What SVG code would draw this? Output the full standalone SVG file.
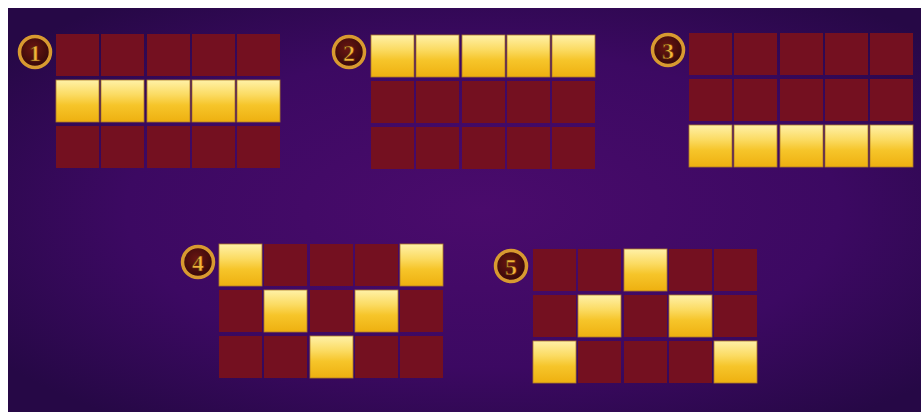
<svg xmlns="http://www.w3.org/2000/svg" width="921" height="412" viewBox="0 0 921 412">
<defs>
<radialGradient id="bg" cx="0.52" cy="0.5" r="0.65">
<stop offset="0" stop-color="#4a0b6c"/>
<stop offset="0.6" stop-color="#3c0962"/>
<stop offset="1" stop-color="#260846"/>
</radialGradient>
<linearGradient id="gold" x1="0" y1="0" x2="0" y2="1">
<stop offset="0" stop-color="#fff1a8"/>
<stop offset="0.35" stop-color="#fbdb62"/>
<stop offset="0.6" stop-color="#f6c52a"/>
<stop offset="1" stop-color="#eeb010"/>
</linearGradient>
<radialGradient id="badgeIn" cx="0.45" cy="0.4" r="0.6">
<stop offset="0" stop-color="#6a1612"/>
<stop offset="1" stop-color="#34080a"/>
</radialGradient>
<style>
.r{fill:#741020}
.g{fill:url(#gold);stroke:#b07a2a;stroke-width:0.8}
.ring{fill:url(#badgeIn);stroke:#d89a30;stroke-width:3.5}
.num{font-family:"Liberation Serif",serif;font-weight:bold;font-size:24px;fill:#f2b43a;text-anchor:middle;stroke:#5a2808;stroke-width:0.6}
</style>
</defs>
<rect x="0" y="0" width="921" height="412" fill="#ffffff"/>
<rect x="8" y="8" width="913" height="404" fill="url(#bg)"/>

<g id="line1" transform="translate(56,34)">
<circle class="ring" cx="-21" cy="18" r="15.5"/>
<text class="num" x="-21" y="26.5">1</text>
<rect class="r" x="0" y="0" width="43" height="42"/><rect class="r" x="45" y="0" width="43" height="42"/><rect class="r" x="91" y="0" width="43" height="42"/><rect class="r" x="136" y="0" width="43" height="42"/><rect class="r" x="181" y="0" width="43" height="42"/>
<rect class="g" x="0" y="46" width="43" height="42"/><rect class="g" x="45" y="46" width="43" height="42"/><rect class="g" x="91" y="46" width="43" height="42"/><rect class="g" x="136" y="46" width="43" height="42"/><rect class="g" x="181" y="46" width="43" height="42"/>
<rect class="r" x="0" y="92" width="43" height="42"/><rect class="r" x="45" y="92" width="43" height="42"/><rect class="r" x="91" y="92" width="43" height="42"/><rect class="r" x="136" y="92" width="43" height="42"/><rect class="r" x="181" y="92" width="43" height="42"/>
</g>

<g id="line2" transform="translate(371,35)">
<circle class="ring" cx="-22" cy="17" r="15.5"/>
<text class="num" x="-22" y="25.5">2</text>
<rect class="g" x="0" y="0" width="43" height="42"/><rect class="g" x="45" y="0" width="43" height="42"/><rect class="g" x="91" y="0" width="43" height="42"/><rect class="g" x="136" y="0" width="43" height="42"/><rect class="g" x="181" y="0" width="43" height="42"/>
<rect class="r" x="0" y="46" width="43" height="42"/><rect class="r" x="45" y="46" width="43" height="42"/><rect class="r" x="91" y="46" width="43" height="42"/><rect class="r" x="136" y="46" width="43" height="42"/><rect class="r" x="181" y="46" width="43" height="42"/>
<rect class="r" x="0" y="92" width="43" height="42"/><rect class="r" x="45" y="92" width="43" height="42"/><rect class="r" x="91" y="92" width="43" height="42"/><rect class="r" x="136" y="92" width="43" height="42"/><rect class="r" x="181" y="92" width="43" height="42"/>
</g>

<g id="line3" transform="translate(689,33)">
<circle class="ring" cx="-21" cy="17" r="15.5"/>
<text class="num" x="-21" y="25.5">3</text>
<rect class="r" x="0" y="0" width="43" height="42"/><rect class="r" x="45" y="0" width="43" height="42"/><rect class="r" x="91" y="0" width="43" height="42"/><rect class="r" x="136" y="0" width="43" height="42"/><rect class="r" x="181" y="0" width="43" height="42"/>
<rect class="r" x="0" y="46" width="43" height="42"/><rect class="r" x="45" y="46" width="43" height="42"/><rect class="r" x="91" y="46" width="43" height="42"/><rect class="r" x="136" y="46" width="43" height="42"/><rect class="r" x="181" y="46" width="43" height="42"/>
<rect class="g" x="0" y="92" width="43" height="42"/><rect class="g" x="45" y="92" width="43" height="42"/><rect class="g" x="91" y="92" width="43" height="42"/><rect class="g" x="136" y="92" width="43" height="42"/><rect class="g" x="181" y="92" width="43" height="42"/>
</g>

<g id="line4" transform="translate(219,244)">
<circle class="ring" cx="-21" cy="18" r="15.5"/>
<text class="num" x="-21" y="26.5">4</text>
<rect class="g" x="0" y="0" width="43" height="42"/><rect class="r" x="45" y="0" width="43" height="42"/><rect class="r" x="91" y="0" width="43" height="42"/><rect class="r" x="136" y="0" width="43" height="42"/><rect class="g" x="181" y="0" width="43" height="42"/>
<rect class="r" x="0" y="46" width="43" height="42"/><rect class="g" x="45" y="46" width="43" height="42"/><rect class="r" x="91" y="46" width="43" height="42"/><rect class="g" x="136" y="46" width="43" height="42"/><rect class="r" x="181" y="46" width="43" height="42"/>
<rect class="r" x="0" y="92" width="43" height="42"/><rect class="r" x="45" y="92" width="43" height="42"/><rect class="g" x="91" y="92" width="43" height="42"/><rect class="r" x="136" y="92" width="43" height="42"/><rect class="r" x="181" y="92" width="43" height="42"/>
</g>

<g id="line5" transform="translate(533,249)">
<circle class="ring" cx="-22" cy="17" r="15.5"/>
<text class="num" x="-22" y="25.5">5</text>
<rect class="r" x="0" y="0" width="43" height="42"/><rect class="r" x="45" y="0" width="43" height="42"/><rect class="g" x="91" y="0" width="43" height="42"/><rect class="r" x="136" y="0" width="43" height="42"/><rect class="r" x="181" y="0" width="43" height="42"/>
<rect class="r" x="0" y="46" width="43" height="42"/><rect class="g" x="45" y="46" width="43" height="42"/><rect class="r" x="91" y="46" width="43" height="42"/><rect class="g" x="136" y="46" width="43" height="42"/><rect class="r" x="181" y="46" width="43" height="42"/>
<rect class="g" x="0" y="92" width="43" height="42"/><rect class="r" x="45" y="92" width="43" height="42"/><rect class="r" x="91" y="92" width="43" height="42"/><rect class="r" x="136" y="92" width="43" height="42"/><rect class="g" x="181" y="92" width="43" height="42"/>
</g>
</svg>
